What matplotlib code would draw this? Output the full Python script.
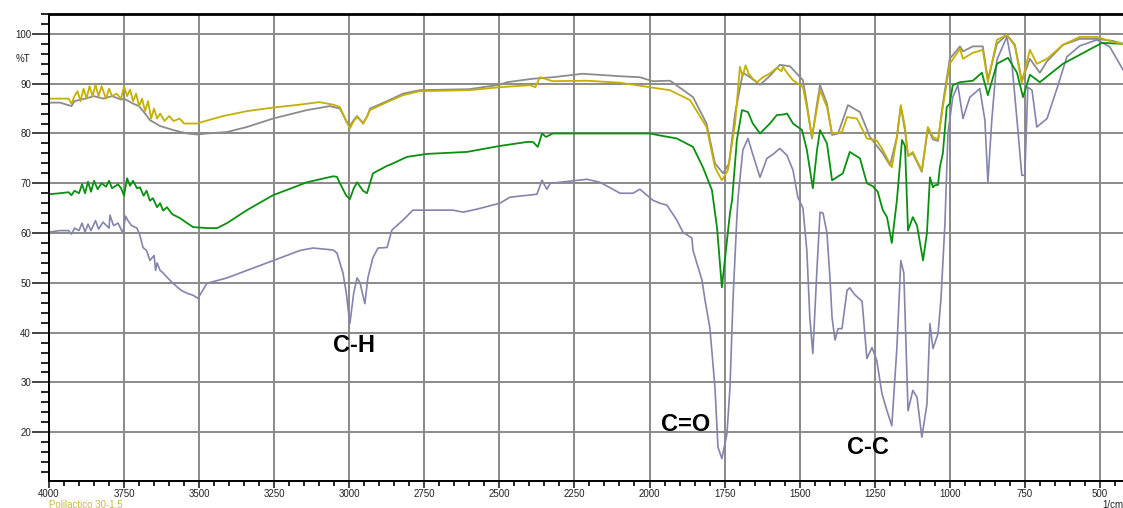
import matplotlib.pyplot as plt
from matplotlib.ticker import MultipleLocator

plt.rcParams['font.family'] = ['Liberation Sans', 'DejaVu Sans']

# gray trace (wavenumber, %T)
wn_gray = [4000, 3963, 3925, 3915, 3880, 3850, 3820, 3790, 3760, 3750, 3720, 3700, 3680, 3664,
           3630, 3587, 3540, 3507, 3474, 3407, 3341, 3254, 3141, 3064, 3031, 3010, 2998, 2985,
           2974, 2960, 2954, 2940, 2931, 2874, 2821, 2765, 2600, 2498, 2475, 2388, 2322, 2222,
           2098, 2032, 1989, 1932, 1922, 1855, 1810, 1782, 1755, 1735, 1715, 1689, 1670, 1632,
           1600, 1566, 1532, 1489, 1476, 1459, 1442, 1432, 1409, 1392, 1372, 1339, 1299, 1266,
           1223, 1199, 1176, 1163, 1149, 1139, 1123, 1093, 1073, 1056, 1039, 1023, 1000, 966,
           956, 923, 890, 873, 843, 810, 783, 760, 733, 700, 676, 623, 567, 510, 457, 423]
t_gray = [86.2, 86.2, 85.5, 86.5, 87.0, 87.5, 87.0, 87.5, 86.8, 87.0, 86.0, 85.5, 84.0, 82.7,
          81.5, 80.7, 80.0, 79.8, 80.0, 80.3, 81.3, 83.0, 84.7, 85.5, 85.0, 82.5, 81.5, 82.7,
          83.5, 82.5, 82.0, 83.5, 85.0, 86.5, 88.0, 88.7, 88.9, 89.8, 90.3, 91.0, 91.3, 92.0,
          91.5, 91.3, 90.5, 90.6, 90.2, 87.3, 82.0, 74.0, 72.0, 74.0, 84.0, 92.2, 91.5, 89.8,
          91.5, 93.8, 93.5, 90.7, 86.0, 79.0, 86.0, 89.7, 86.0, 79.7, 80.0, 85.7, 84.3, 79.3,
          76.0, 73.6, 79.3, 85.5, 80.5, 75.5, 76.0, 72.3, 81.0, 78.8, 78.5, 86.0, 95.0, 97.5,
          96.5, 97.5, 97.5, 90.8, 98.0, 99.8, 97.8, 90.5, 95.0, 92.2, 94.5, 97.8, 99.0, 99.0, 98.6, 98.0]

# yellow trace
wn_yellow = [4000, 3963, 3935, 3925, 3915, 3905, 3895, 3885, 3875, 3865, 3855, 3845, 3835, 3825,
             3810, 3800, 3790, 3775, 3760, 3750, 3740, 3730, 3720, 3710, 3700, 3690, 3680, 3670,
             3660, 3650, 3640, 3630, 3615, 3600, 3585, 3565, 3550, 3530, 3507, 3480, 3420, 3340,
             3254, 3164, 3100, 3054, 3031, 3010, 2998, 2985, 2974, 2960, 2954, 2940, 2931, 2874,
             2821, 2765, 2600, 2498, 2398, 2380, 2365, 2322, 2208, 2098, 2000, 1932, 1865, 1810,
             1782, 1759, 1739, 1715, 1699, 1690, 1680, 1670, 1656, 1642, 1622, 1600, 1576, 1560,
             1556, 1540, 1522, 1489, 1476, 1459, 1442, 1432, 1409, 1392, 1359, 1342, 1309, 1276,
             1243, 1223, 1193, 1176, 1163, 1149, 1139, 1123, 1109, 1093, 1073, 1056, 1039, 1023,
             1000, 966, 956, 923, 890, 873, 843, 810, 783, 760, 733, 710, 676, 623, 567, 510, 457, 423]
t_yellow = [87.0, 87.0, 87.0, 86.0, 87.5, 88.5, 86.5, 89.0, 87.0, 89.5, 87.5, 89.8, 87.5, 89.5,
            87.0, 89.0, 87.5, 88.0, 87.0, 89.5, 87.5, 88.8, 86.5, 88.0, 85.5, 87.0, 84.5, 86.5,
            83.0, 85.0, 83.0, 84.0, 82.5, 83.5, 82.5, 83.0, 82.0, 82.0, 82.0, 82.5, 83.5, 84.5,
            85.2, 85.8, 86.3, 85.8, 85.3, 82.5, 81.0, 82.5, 83.3, 82.5, 82.0, 83.5, 84.7, 86.3,
            87.7, 88.5, 88.7, 89.3, 89.7, 89.3, 91.3, 90.5, 90.6, 90.2, 89.3, 88.7, 86.7, 81.3,
            73.2, 70.6, 72.6, 82.0, 93.4, 91.5, 93.7, 92.0, 91.0, 90.3, 91.3, 92.0, 93.2, 92.5,
            93.4, 92.0, 90.7, 89.3, 85.3, 79.3, 85.3, 88.7, 85.3, 80.0, 80.3, 83.3, 83.0, 79.0,
            78.6, 76.7, 73.2, 79.3, 85.7, 81.3, 75.5, 76.3, 74.5, 72.6, 81.3, 79.3, 78.8, 85.3,
            94.0, 97.0, 95.0, 96.2, 96.8, 90.3, 98.8, 99.8, 97.6, 90.3, 96.8, 94.0, 95.0, 97.8,
            99.4, 99.4, 98.4, 98.0]

# green trace
wn_green = [4000, 3963, 3935, 3925, 3915, 3900, 3890, 3880, 3870, 3860, 3850, 3838, 3825, 3810,
            3800, 3790, 3770, 3760, 3750, 3740, 3730, 3720, 3707, 3697, 3685, 3675, 3664, 3654,
            3640, 3630, 3620, 3607, 3590, 3564, 3540, 3520, 3474, 3440, 3407, 3341, 3254, 3141,
            3054, 3041, 3031, 3010, 2998, 2985, 2974, 2954, 2941, 2921, 2874, 2854, 2808, 2741,
            2608, 2498, 2408, 2388, 2372, 2358, 2345, 2322, 2100, 1999, 1965, 1909, 1855, 1822,
            1792, 1775, 1759, 1732, 1725, 1709, 1692, 1672, 1656, 1632, 1599, 1576, 1556, 1542,
            1522, 1492, 1476, 1456, 1442, 1432, 1409, 1392, 1356, 1333, 1299, 1276, 1256, 1240,
            1223, 1209, 1193, 1176, 1159, 1149, 1139, 1123, 1109, 1089, 1076, 1066, 1056, 1049,
            1039, 1033, 1023, 1010, 1000, 990, 966, 923, 893, 873, 843, 806, 776, 756, 733, 700,
            623, 567, 493, 423]
t_green = [67.8, 68.0, 68.2, 67.6, 68.5, 68.0, 69.8, 68.0, 70.3, 68.3, 70.5, 68.8, 70.0, 69.3,
           70.5, 69.0, 69.8, 69.0, 67.5, 71.0, 69.5, 70.5, 69.0, 69.2, 67.5, 68.5, 66.5, 67.0,
           65.2, 66.0, 64.5, 65.2, 63.8, 63.0, 62.0, 61.2, 61.0, 61.0, 62.0, 64.6, 67.6, 70.2,
           71.4, 71.3, 70.0, 67.5, 66.8, 69.0, 70.2, 68.5, 68.0, 72.0, 73.5, 74.0, 75.3, 75.9,
           76.3, 77.5, 78.3, 78.3, 77.3, 80.0, 79.3, 80.0, 80.0, 80.0, 79.6, 79.0, 77.3, 73.2,
           68.6, 61.0, 49.1, 64.0, 66.6, 78.7, 84.7, 84.3, 82.0, 80.0, 82.0, 83.7, 83.8, 84.0,
           82.0, 80.7, 76.7, 69.0, 76.7, 80.7, 78.0, 70.6, 72.0, 76.3, 75.0, 70.0, 69.4, 68.3,
           64.6, 63.2, 58.0, 66.6, 78.7, 77.5, 60.5, 63.2, 61.5, 54.5, 60.0, 71.2, 69.2, 69.6,
           69.7, 73.2, 76.0, 85.3, 86.0, 89.7, 90.3, 90.6, 92.2, 87.7, 94.0, 95.2, 92.2, 87.3,
           91.8, 90.3, 94.0, 95.8, 98.2, 98.0]

# purple trace
wn_purple = [4000, 3963, 3935, 3925, 3915, 3900, 3890, 3880, 3870, 3860, 3845, 3835, 3820, 3800,
             3797, 3785, 3770, 3754, 3745, 3737, 3725, 3707, 3697, 3687, 3675, 3664, 3650, 3645,
             3640, 3630, 3620, 3605, 3587, 3560, 3540, 3520, 3504, 3474, 3407, 3341, 3254, 3164,
             3121, 3054, 3041, 3021, 3010, 2998, 2985, 2974, 2964, 2948, 2938, 2921, 2904, 2874,
             2858, 2821, 2788, 2655, 2621, 2575, 2498, 2465, 2375, 2358, 2342, 2330, 2208, 2165,
             2098, 2055, 2032, 1989, 1965, 1942, 1909, 1889, 1859, 1855, 1825, 1815, 1799, 1782,
             1772, 1759, 1742, 1732, 1722, 1709, 1705, 1689, 1672, 1656, 1632, 1609, 1589, 1566,
             1542, 1522, 1506, 1489, 1476, 1466, 1456, 1442, 1432, 1422, 1409, 1399, 1392, 1382,
             1372, 1359, 1342, 1333, 1316, 1292, 1276, 1259, 1243, 1226, 1209, 1193, 1176, 1163,
             1153, 1139, 1123, 1109, 1093, 1076, 1066, 1056, 1039, 1029, 1016, 1006, 990, 973,
             956, 933, 900, 883, 873, 860, 843, 810, 793, 776, 760, 750, 740, 726, 710, 676, 643,
             610, 567, 510, 467, 423]
t_purple = [60.2, 60.5, 60.5, 59.8, 61.0, 60.5, 62.0, 60.2, 61.8, 60.5, 62.5, 60.8, 62.2, 61.0,
            63.6, 61.5, 62.0, 60.0, 63.4, 62.5, 61.5, 61.0, 59.5, 57.1, 56.5, 54.5, 55.5, 52.5,
            54.0, 52.5, 52.0, 51.0, 49.9, 48.5, 47.9, 47.5, 46.9, 49.9, 51.0, 52.5, 54.5, 56.5,
            57.0, 56.6, 56.0, 52.0, 48.0, 41.8, 48.0, 51.0, 50.0, 45.8, 51.0, 55.1, 57.0, 57.1,
            60.6, 62.6, 64.6, 64.6, 64.2, 64.8, 66.0, 67.2, 67.8, 70.6, 68.8, 70.0, 70.8, 70.2,
            68.0, 68.0, 68.8, 66.6, 66.0, 65.6, 62.6, 60.2, 59.0, 56.5, 50.5, 46.5, 41.0, 29.0,
            17.0, 14.7, 19.7, 29.0, 46.5, 63.2, 67.2, 76.7, 79.0, 75.8, 71.2, 75.0, 75.8, 77.0,
            75.6, 72.6, 67.2, 65.0, 56.5, 43.0, 35.8, 53.1, 64.2, 64.0, 60.0, 51.0, 43.0, 38.5,
            40.8, 40.8, 48.5, 49.0, 47.6, 46.3, 34.8, 37.0, 34.4, 27.8, 24.3, 21.3, 37.0, 54.5,
            52.0, 24.3, 28.4, 27.0, 19.0, 25.6, 41.8, 36.8, 39.8, 47.0, 62.0, 80.0, 87.3, 89.7,
            83.0, 87.3, 89.0, 82.7, 70.2, 82.7, 94.8, 99.4, 94.0, 82.7, 71.6, 71.6, 89.3, 88.7,
            81.3, 83.0, 89.0, 95.4, 97.6, 98.8, 97.4, 92.8]

x_ticks = [4000, 3750, 3500, 3250, 3000, 2750, 2500, 2250, 2000, 1750, 1500, 1250, 1000, 750, 500]
y_ticks = [20, 30, 40, 50, 60, 70, 80, 90, 100]

fig = plt.figure(figsize=(11.23, 5.08), dpi=100)
ax = fig.add_axes([49 / 1123, 1 - 481 / 508, 1 - 49 / 1123, (481 - 14) / 508])

ax.plot(wn_purple, t_purple, color='#8484ac', linewidth=1.2)
ax.plot(wn_green, t_green, color='#0a9010', linewidth=1.3)
ax.plot(wn_gray, t_gray, color='#8c8c8c', linewidth=1.3)
ax.plot(wn_yellow, t_yellow, color='#c4b000', linewidth=1.3)

ax.set_xlim(4000, 423)
ax.set_ylim(10.2, 104)

ax.set_xticks(x_ticks)
ax.set_xticklabels([str(v) for v in x_ticks])
ax.xaxis.set_minor_locator(MultipleLocator(50))
ax.set_yticks(y_ticks)
ax.set_yticklabels([str(v) for v in y_ticks])
ax.yaxis.set_minor_locator(MultipleLocator(2))

ax.tick_params(axis='x', which='major', direction='out', length=5, width=1.2, labelsize=7, pad=0.5, colors='#222222')
ax.tick_params(axis='x', which='minor', direction='out', length=3.5, width=1.2)
ax.tick_params(axis='y', which='major', direction='out', length=12, width=1.2, labelsize=7, pad=1, colors='#222222')
ax.tick_params(axis='y', which='minor', direction='out', length=6, width=1.2)

ax.grid(True, which='major', color='#8a8a8a', linewidth=1.4)
ax.set_axisbelow(True)

for side in ['left', 'bottom', 'top']:
    ax.spines[side].set_color('black')
    ax.spines[side].set_linewidth(1.4)
ax.spines['right'].set_visible(False)
ax.spines['top'].set_linewidth(2)

ax.text(2983, 37.4, 'C-H', fontsize=17, fontweight='bold', ha='center', va='center')
ax.text(1879, 21.5, 'C=O', fontsize=17, fontweight='bold', ha='center', va='center')
ax.text(1273, 16.9, 'C-C', fontsize=17, fontweight='bold', ha='center', va='center')

fig.text(16 / 1123, 1 - 59 / 508, '%T', fontsize=7, color='#222222', va='center')
fig.text(1102 / 1123, 1 - 505 / 508, '1/cm', fontsize=7, color='#222222', va='center')
fig.text(49 / 1123, 1 - 505 / 508, 'Polilactico 30-1.5', fontsize=7, color='#c8b848', va='center')

fig.savefig('out.png', dpi=100)
